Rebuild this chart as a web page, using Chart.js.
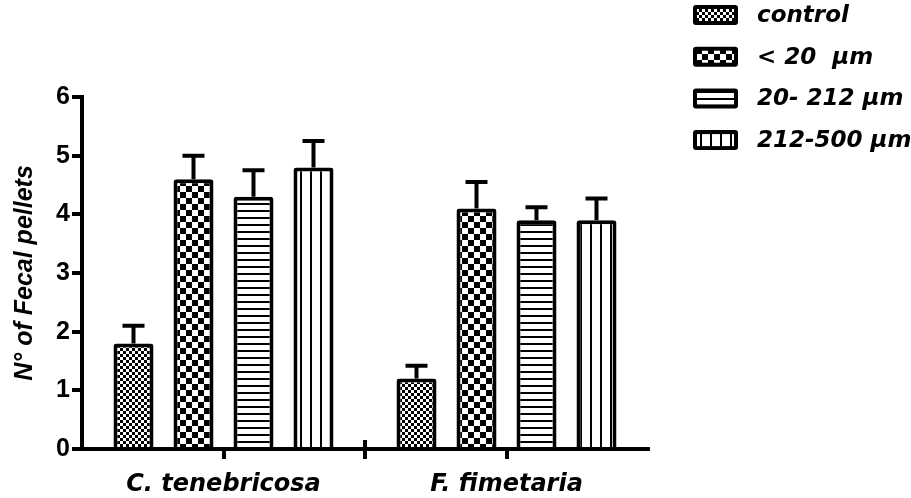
<!DOCTYPE html>
<html>
<head>
<meta charset="utf-8">
<title>Fecal pellets</title>
<script src="https://cdn.jsdelivr.net/npm/chart.js@4"></script>
<style>
  html, body { margin: 0; padding: 0; background: #fff; }
  #wrap { width: 911px; height: 498px; position: relative; }
</style>
</head>
<body>
<div id="wrap"><canvas id="chart"></canvas></div>
<script>
// data
const species = ['C. tenebricosa', 'F. fimetaria'];
const seriesNames = ['control', '< 20  μm', '20- 212 μm', '212-500 μm'];
const controlMeans = [1.8, 1.2];
const under20Means = [4.6, 4.1];
const mid212Means = [4.3, 3.9];
const big500Means = [4.8, 3.9];
const controlErr = [0.3, 0.22];
const under20Err = [0.4, 0.45];
const mid212Err = [0.45, 0.22];
const big500Err = [0.45, 0.37];
const yTicks = [0, 1, 2, 3, 4, 5, 6];

const wideFont = '"DejaVu Sans", "Liberation Sans", sans-serif';

// fill patterns (fine check, coarse check, horizontal lines, vertical lines)
function makePattern(kind) {
    const c = document.createElement('canvas');
    const g = c.getContext('2d');
    if (kind === 'fine') {
        c.width = 6; c.height = 6;
        g.fillStyle = '#fff'; g.fillRect(0, 0, 6, 6);
        g.fillStyle = '#000'; g.fillRect(0, 0, 3, 3); g.fillRect(3, 3, 3, 3);
    } else if (kind === 'check') {
        c.width = 12; c.height = 12;
        g.fillStyle = '#fff'; g.fillRect(0, 0, 12, 12);
        g.fillStyle = '#000'; g.fillRect(0, 0, 6, 6); g.fillRect(6, 6, 6, 6);
    } else if (kind === 'hlines') {
        c.width = 8; c.height = 7;
        g.fillStyle = '#fff'; g.fillRect(0, 0, 8, 7);
        g.fillStyle = '#000'; g.fillRect(0, 0, 8, 2);
    } else {
        c.width = 10; c.height = 8;
        g.fillStyle = '#fff'; g.fillRect(0, 0, 10, 8);
        g.fillStyle = '#000'; g.fillRect(0, 0, 2, 8);
    }
    return g.createPattern(c, 'repeat');
}

const errorBars = {
    id: 'errorBars',
    afterDatasetsDraw(chart) {
        const ctx = chart.ctx;
        const yScale = chart.scales.y;
        ctx.save();
        ctx.strokeStyle = '#000';
        ctx.lineWidth = 4;
        chart.data.datasets.forEach((ds, i) => {
            chart.getDatasetMeta(i).data.forEach((bar, j) => {
                const top = yScale.getPixelForValue(ds.data[j] + ds.errors[j]);
                ctx.beginPath();
                ctx.moveTo(bar.x, bar.y);
                ctx.lineTo(bar.x, top);
                ctx.moveTo(bar.x - 11, top);
                ctx.lineTo(bar.x + 11, top);
                ctx.stroke();
            });
        });
        ctx.restore();
    }
};

// tick between the two groups, crossing the axis
const groupDivider = {
    id: 'groupDivider',
    afterDraw(chart) {
        const ctx = chart.ctx;
        const xScale = chart.scales.x;
        const mid = (xScale.getPixelForValue(0) + xScale.getPixelForValue(1)) / 2;
        const base = chart.chartArea.bottom;
        ctx.save();
        ctx.strokeStyle = '#000';
        ctx.lineWidth = 4;
        ctx.beginPath();
        ctx.moveTo(mid, base - 9);
        ctx.lineTo(mid, base + 10);
        ctx.stroke();
        ctx.restore();
    }
};

// legend at the top right, built from the datasets
const sideLegend = {
    id: 'sideLegend',
    afterDraw(chart) {
        const ctx = chart.ctx;
        ctx.save();
        chart.data.datasets.forEach((ds, i) => {
            const cy = 15 + i * 41.7;
            const bx = 693, bw = 45, bh = 20;
            ctx.fillStyle = '#000';
            ctx.beginPath();
            ctx.roundRect(bx, cy - bh / 2, bw, bh, 3);
            ctx.fill();
            ctx.fillStyle = ds.backgroundColor;
            ctx.fillRect(bx + 4, cy - bh / 2 + 4, bw - 8, bh - 8);
            ctx.fillStyle = '#000';
            ctx.font = 'oblique bold 23px ' + wideFont;
            ctx.textBaseline = 'middle';
            ctx.textAlign = 'left';
            ctx.fillText(ds.label, 757, cy + 1);
        });
        ctx.restore();
    }
};

const fills = [makePattern('fine'), makePattern('check'), makePattern('hlines'), makePattern('vlines')];
const means = [controlMeans, under20Means, mid212Means, big500Means];
const errs = [controlErr, under20Err, mid212Err, big500Err];

Chart.defaults.font.family = '"Liberation Sans", Arial, sans-serif';
Chart.defaults.color = '#000';

new Chart(document.getElementById('chart'), {
    type: 'bar',
    data: {
        labels: species,
        datasets: seriesNames.map((name, i) => ({
            label: name,
            data: means[i],
            errors: errs[i],
            backgroundColor: fills[i],
            borderColor: '#000',
            borderWidth: 4,
            borderSkipped: 'start',
            borderRadius: 3,
            categoryPercentage: 0.848,
            barPercentage: 0.667
        }))
    },
    options: {
        responsive: true,
        maintainAspectRatio: false,
        animation: false,
        layout: { padding: { top: 97, right: 263, left: 0, bottom: 0 } },
        plugins: {
            legend: { display: false },
            tooltip: { enabled: false }
        },
        scales: {
            x: {
                afterFit: s => { s.height = 49; },
                border: { color: '#000', width: 4 },
                grid: { offset: false, drawOnChartArea: false, color: '#000', lineWidth: 4, tickLength: 10, tickWidth: 4 },
                ticks: { color: '#000', padding: 11, font: { family: wideFont, size: 24, weight: 'bold', style: 'oblique' } }
            },
            y: {
                min: 0,
                max: 6,
                afterFit: s => { s.width = 82; },
                afterBuildTicks: s => { s.ticks = yTicks.map(v => ({ value: v })); },
                border: { color: '#000', width: 4 },
                grid: { drawOnChartArea: false, color: '#000', lineWidth: 4, tickLength: 10, tickWidth: 4 },
                ticks: { color: '#000', padding: 2, font: { family: '"Liberation Sans", Arial, sans-serif', size: 25, weight: 'bold' } },
                title: {
                    display: true,
                    text: 'N° of Fecal pellets',
                    color: '#000',
                    font: { family: '"Liberation Sans", Arial, sans-serif', size: 25, weight: 'bold', style: 'italic' },
                    padding: { top: 10, bottom: 0 }
                }
            }
        }
    },
    plugins: [errorBars, groupDivider, sideLegend]
});
</script>
</body>
</html>
